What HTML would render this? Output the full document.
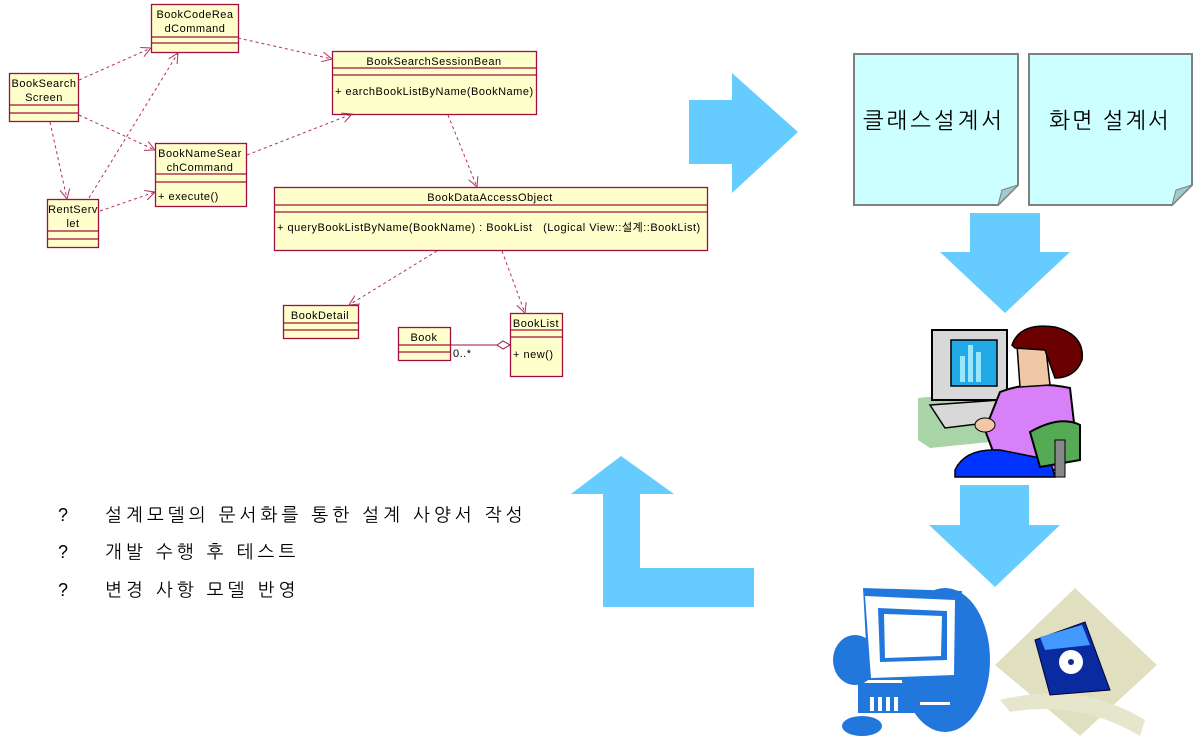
<!DOCTYPE html>
<html><head><meta charset="utf-8"><style>
html,body{margin:0;padding:0;background:#fff;}
body{width:1193px;height:736px;overflow:hidden;position:relative;}
svg{position:absolute;left:0;top:0;}
.u{font-family:"Liberation Sans","Noto Sans CJK KR",sans-serif;font-size:11px;fill:#000;letter-spacing:0.5px;}
.k{font-family:"Liberation Sans","NanumGothic","Noto Sans CJK KR",sans-serif;fill:#000;}
</style></head><body>
<svg width="1193" height="736" viewBox="0 0 1193 736">
<defs>
<marker id="oa" markerWidth="12" markerHeight="12" refX="10" refY="5" orient="auto" markerUnits="userSpaceOnUse">
<path d="M0,0 L10,5 L0,10" fill="none" stroke="#b03060" stroke-width="1"/>
</marker>
</defs>
<g fill="#ffffcc" stroke="#a01040" stroke-width="1.3">
<rect x="151.5" y="4.5" width="87" height="48"/><line x1="151" y1="37" x2="238" y2="37"/><line x1="151" y1="43" x2="238" y2="43"/>
<rect x="9.5" y="73.5" width="69" height="48"/><line x1="9" y1="105" x2="79" y2="105"/><line x1="9" y1="113" x2="79" y2="113"/>
<rect x="155.5" y="143.5" width="91" height="63"/><line x1="155" y1="174" x2="246" y2="174"/><line x1="155" y1="182" x2="246" y2="182"/>
<rect x="47.5" y="199.5" width="51" height="48"/><line x1="47" y1="231" x2="99" y2="231"/><line x1="47" y1="239" x2="99" y2="239"/>
<rect x="332.5" y="51.5" width="204" height="63"/><line x1="332" y1="68" x2="537" y2="68"/><line x1="332" y1="75" x2="537" y2="75"/>
<rect x="274.5" y="187.5" width="433" height="63"/><line x1="274" y1="205" x2="707" y2="205"/><line x1="274" y1="212" x2="707" y2="212"/>
<rect x="283.5" y="305.5" width="75" height="33"/><line x1="283" y1="323" x2="358" y2="323"/><line x1="283" y1="330" x2="358" y2="330"/>
<rect x="398.5" y="327.5" width="52" height="33"/><line x1="398" y1="345" x2="450" y2="345"/><line x1="398" y1="352" x2="450" y2="352"/>
<rect x="510.5" y="313.5" width="52" height="63"/><line x1="510" y1="330" x2="562" y2="330"/><line x1="510" y1="337" x2="562" y2="337"/>
</g>
<g class="u" text-anchor="middle">
<text x="195" y="18">BookCodeRea</text><text x="195" y="32">dCommand</text>
<text x="44" y="87">BookSearch</text><text x="44" y="101">Screen</text>
<text x="200" y="157">BookNameSear</text><text x="200" y="171">chCommand</text>
<text x="73" y="213">RentServ</text><text x="73" y="227">let</text>
<text x="434" y="65">BookSearchSessionBean</text>
<text x="490" y="201">BookDataAccessObject</text>
<text x="320" y="319">BookDetail</text>
<text x="424" y="341">Book</text>
<text x="536" y="327">BookList</text>
</g>
<g class="u">
<text x="158" y="200">+ execute()</text>
<text x="335" y="95">+ earchBookListByName(BookName)</text>
<text x="277" y="231" xml:space="preserve">+ queryBookListByName(BookName) : BookList   (Logical View::설계::BookList)</text>
<text x="513" y="358">+ new()</text>
<text x="453" y="357">0..*</text>
</g>
<g stroke="#b03060" stroke-width="1" stroke-dasharray="3,3" fill="none" marker-end="url(#oa)">
<line x1="79" y1="80" x2="151" y2="48"/>
<line x1="79" y1="115" x2="155" y2="150"/>
<line x1="50" y1="122" x2="67" y2="199"/>
<line x1="89" y1="198" x2="178" y2="53"/>
<line x1="100" y1="211" x2="155" y2="192"/>
<line x1="238" y1="38" x2="332" y2="59"/>
<line x1="247" y1="155" x2="352" y2="114"/>
<line x1="448" y1="115" x2="477" y2="187"/>
<line x1="437" y1="251" x2="349" y2="305"/>
<line x1="502" y1="251" x2="525" y2="313"/>
</g>
<line x1="450" y1="345" x2="497" y2="345" stroke="#a01040" stroke-width="1"/>
<path d="M497,345 L503,341 L510,345 L503,349 Z" fill="#fff" stroke="#a01040" stroke-width="1"/>

<g fill="#66ccff">
<path d="M689,100 H732 V73 L798,132 L732,193 V164 H689 Z"/>
<path d="M970,213 H1040 V252 H1070 L1005,313 L940,252 H970 Z"/>
<path d="M960,485 H1029 V525 H1060 L995,587 L929,525 H960 Z"/>
<path d="M621,456 L674,494 H640 V568 H754 V607 H603 V494 H571 Z"/>
</g>

<g stroke="#808080" stroke-width="2" fill="#ccffff">
<path d="M854,54 H1018 V185 L998,205 H854 Z"/>
<path d="M1029,54 H1192 V185 L1172,205 H1029 Z"/>
</g>
<path d="M998,205 L1002,190 L1018,185 Z" fill="#a0cccc" stroke="#808080" stroke-width="1"/>
<path d="M1172,205 L1176,190 L1192,185 Z" fill="#a0cccc" stroke="#808080" stroke-width="1"/>
<text class="k" x="934" y="128" font-size="22" text-anchor="middle" letter-spacing="3">클래스설계서</text>
<text class="k" x="1110" y="128" font-size="22" text-anchor="middle" letter-spacing="2">화면 설계서</text>

<g class="k" font-size="18">
<text x="58" y="521">?</text><text x="105" y="521" letter-spacing="4">설계모델의 문서화를 통한 설계 사양서 작성</text>
<text x="58" y="558">?</text><text x="105" y="558" letter-spacing="4">개발 수행 후 테스트</text>
<text x="58" y="596">?</text><text x="105" y="596" letter-spacing="4">변경 사항 모델 반영</text>
</g>

<!-- person at computer -->
<g>
<path d="M918,398 L1000,390 L1010,440 L930,448 L918,440 Z" fill="#a8d4a8"/>
<rect x="932" y="330" width="75" height="70" fill="#d8d8d8" stroke="#000" stroke-width="2"/>
<rect x="951" y="340" width="46" height="46" fill="#22aae6" stroke="#000" stroke-width="1.5"/>
<rect x="960" y="356" width="5" height="26" fill="#99e6ff"/><rect x="968" y="345" width="5" height="37" fill="#99e6ff"/><rect x="976" y="352" width="5" height="30" fill="#99e6ff"/>
<path d="M930,405 L1000,400 L1010,420 L945,428 Z" fill="#d8d8d8" stroke="#000" stroke-width="1.5"/>
<path d="M1000,392 Q1030,380 1070,388 L1076,440 L1060,470 L1000,470 L985,430 Z" fill="#d880f8" stroke="#000" stroke-width="2"/>
<path d="M955,470 Q965,448 1000,450 L1050,460 L1055,477 L955,477 Z" fill="#0033ff" stroke="#000" stroke-width="1.5"/>
<path d="M1030,432 Q1060,415 1080,425 L1080,460 L1040,467 Z" fill="#55aa55" stroke="#000" stroke-width="2"/>
<rect x="1055" y="440" width="10" height="37" fill="#888" stroke="#000" stroke-width="1"/>
<path d="M1017,345 L1045,340 L1050,385 L1020,387 Z" fill="#f0c8a8" stroke="#000" stroke-width="1.5"/>
<path d="M1012,345 Q1020,322 1055,327 Q1085,335 1082,360 Q1075,378 1055,378 L1045,350 L1015,348 Z" fill="#6a0000" stroke="#000" stroke-width="1.5"/>
<ellipse cx="985" cy="425" rx="10" ry="7" fill="#f0c8a8" stroke="#000" stroke-width="1"/>
</g>

<!-- computer icon -->
<g fill="#2277dd">
<ellipse cx="945" cy="660" rx="45" ry="72"/>
<ellipse cx="855" cy="660" rx="22" ry="25"/>
<path d="M863,588 L962,591 L956,680 L868,680 Z" fill="#2277dd"/>
<rect x="858" y="683" width="100" height="30"/>
<ellipse cx="862" cy="726" rx="20" ry="10"/>
</g>
<path d="M865,596 L955,600 L954,675 L871,678 Z" fill="#fff"/>
<path d="M878,608 L947,611 L947,660 L880,662 Z" fill="#2277dd"/>
<path d="M884,614 L942,616 L941,656 L885,658 Z" fill="#fff"/>
<g fill="#fff"><rect x="870" y="697" width="4" height="14"/><rect x="878" y="697" width="4" height="14"/><rect x="886" y="697" width="4" height="14"/><rect x="894" y="697" width="4" height="14"/><rect x="920" y="702" width="30" height="3"/></g>

<!-- floppy -->
<path d="M1075,588 L1157,665 L1080,736 L995,665 Z" fill="#e0e0c0"/>
<path d="M1000,700 Q1080,680 1145,720 L1140,736 Q1080,700 1010,712 Z" fill="#e6e6cc"/>
<path d="M1035,640 L1085,622 L1110,690 L1050,695 Z" fill="#0a2aa0" stroke="#003" stroke-width="1"/>
<path d="M1040,637 L1082,625 L1090,645 L1045,650 Z" fill="#4499ff"/>
<circle cx="1071" cy="662" r="12" fill="#fff"/><circle cx="1071" cy="662" r="3" fill="#0a2aa0"/>
</svg>
</body></html>
